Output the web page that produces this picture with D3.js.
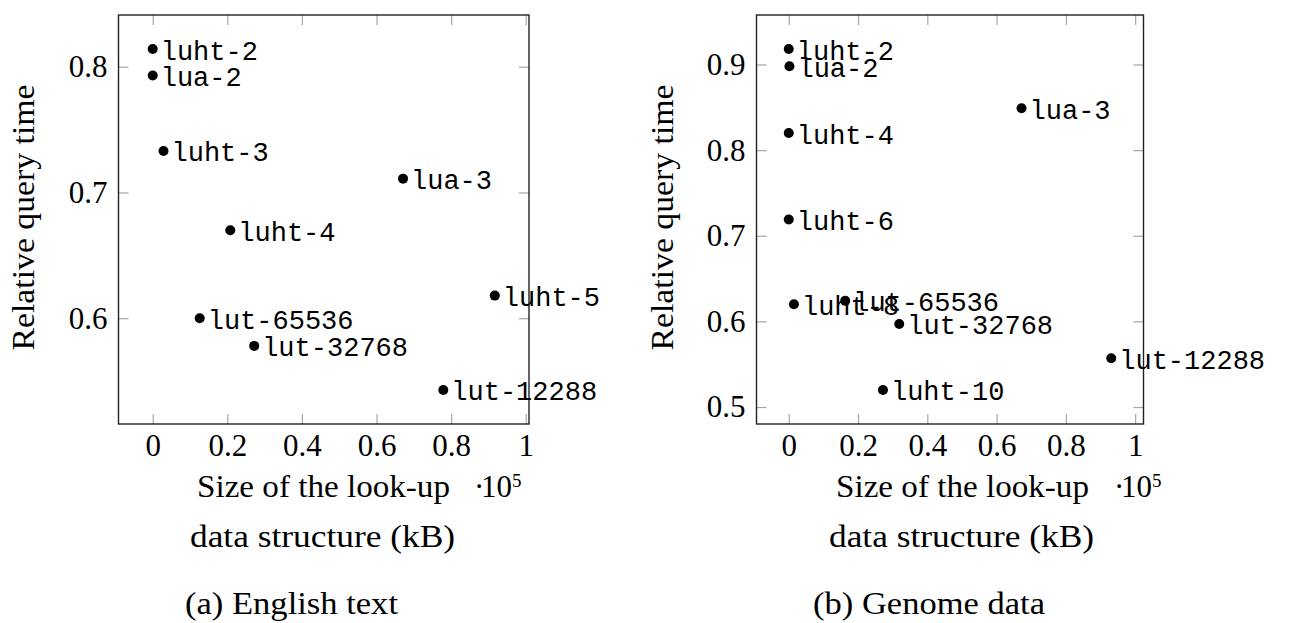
<!DOCTYPE html>
<html>
<head>
<meta charset="utf-8">
<script src="https://cdn.jsdelivr.net/npm/d3@7"></script>
<style>
  html, body { margin: 0; padding: 0; background: #fff; }
  svg { display: block; }
  .serif { font-family: "Liberation Serif", "DejaVu Serif", serif; fill: #000; }
  .mono  { font-family: "Liberation Mono", "DejaVu Sans Mono", monospace; fill: #000; }
</style>
</head>
<body>
<svg id="chart" width="1294" height="623"></svg>
<script>
// (a) English text: look-up structure size (x 10^5 kB) against relative query time
const englishNames = ["luht-2", "lua-2", "luht-3", "lua-3", "luht-4", "lut-65536", "lut-32768", "lut-12288", "luht-5"];
const englishSize  = [0.0, 0.0, 0.029, 0.671, 0.208, 0.126, 0.272, 0.779, 0.917];
const englishTime  = [0.814, 0.793, 0.733, 0.711, 0.670, 0.600, 0.578, 0.543, 0.618];
const englishTimeTicks = [0.6, 0.7, 0.8];
const englishTimeTickLabels = ["0.6", "0.7", "0.8"];

// (b) Genome data
const genomeNames = ["luht-2", "lua-2", "lua-3", "luht-4", "luht-6", "luht-8", "lut-65536", "lut-32768", "lut-12288", "luht-10"];
const genomeSize  = [0.0, 0.002, 0.672, 0.0, 0.0, 0.015, 0.163, 0.319, 0.931, 0.272];
const genomeTime  = [0.918, 0.898, 0.849, 0.820, 0.719, 0.620, 0.624, 0.597, 0.557, 0.520];
const genomeTimeTicks = [0.5, 0.6, 0.7, 0.8, 0.9];
const genomeTimeTickLabels = ["0.5", "0.6", "0.7", "0.8", "0.9"];

// shared x ticks
const sizeTicks = [0, 0.2, 0.4, 0.6, 0.8, 1];
const sizeTickLabels = ["0", "0.2", "0.4", "0.6", "0.8", "1"];

const yTitle = "Relative query time";
const xTitle1 = "Size of the look-up";
const xTitle2 = "data structure (kB)";

const panels = [
  {
    names: englishNames, size: englishSize, time: englishTime,
    yTicks: englishTimeTicks, yTickLabels: englishTimeTickLabels,
    caption: "(a) English text",
    left: 118.5, right: 529, top: 15, bottom: 424,
    yTitleX: 34, xTitleX: 197, xTitle2X: 190, scaleX: 474, captionX: 185, captionLen: 213
  },
  {
    names: genomeNames, size: genomeSize, time: genomeTime,
    yTicks: genomeTimeTicks, yTickLabels: genomeTimeTickLabels,
    caption: "(b) Genome data",
    left: 756.5, right: 1143.5, top: 15, bottom: 424,
    yTitleX: 673, xTitleX: 836, xTitle2X: 829, scaleX: 1114, captionX: 813, captionLen: 232
  }
];

const svg = d3.select("#chart");
svg.append("rect").attr("width", 1294).attr("height", 623).attr("fill", "#fff");

// axis limits widened by 10% of the data range on each side
function padded(values) {
  const [lo, hi] = d3.extent(values);
  const pad = (hi - lo) * 0.1;
  return [lo - pad, hi + pad];
}

const TICK = 10;
const FONT = 31;

function styleAxis(g) {
  g.select(".domain").remove();
  g.attr("font-family", null).attr("font-size", null);
  g.selectAll(".tick line").attr("stroke", "#a6a6a6").attr("stroke-width", 1.2);
  g.selectAll(".tick text").attr("class", "serif").style("font-size", FONT + "px");
}

panels.forEach(p => {
  const x = d3.scaleLinear().domain(padded(p.size)).range([p.left, p.right]);
  const y = d3.scaleLinear().domain(padded(p.time)).range([p.bottom, p.top]);
  const g = svg.append("g");

  // ticks on all four sides, pointing inward
  g.append("g").attr("transform", `translate(0,${p.bottom})`)
    .call(d3.axisBottom(x).tickValues(sizeTicks).tickFormat((d, i) => sizeTickLabels[i]).tickSize(-TICK).tickPadding(10))
    .call(styleAxis);
  g.append("g").attr("transform", `translate(0,${p.top})`)
    .call(d3.axisTop(x).tickValues(sizeTicks).tickFormat(() => "").tickSize(-TICK))
    .call(styleAxis);
  g.append("g").attr("transform", `translate(${p.left},0)`)
    .call(d3.axisLeft(y).tickValues(p.yTicks).tickFormat((d, i) => p.yTickLabels[i]).tickSize(-TICK).tickPadding(11))
    .call(styleAxis);
  g.append("g").attr("transform", `translate(${p.right},0)`)
    .call(d3.axisRight(y).tickValues(p.yTicks).tickFormat(() => "").tickSize(-TICK))
    .call(styleAxis);

  // frame
  g.append("rect")
    .attr("x", p.left).attr("y", p.top)
    .attr("width", p.right - p.left).attr("height", p.bottom - p.top)
    .attr("fill", "none").attr("stroke", "#222").attr("stroke-width", 1.4);

  const pts = p.names.map((n, i) => ({ name: n, s: p.size[i], t: p.time[i] }));

  // markers
  g.selectAll("circle.pt").data(pts).join("circle")
    .attr("class", "pt")
    .attr("cx", d => x(d.s)).attr("cy", d => y(d.t))
    .attr("r", 5).attr("fill", "#000");

  // point labels to the right of each marker
  g.selectAll("text.lbl").data(pts).join("text")
    .attr("class", "lbl mono")
    .attr("x", d => x(d.s) + 8).attr("y", d => y(d.t) + 10.5)
    .style("font-size", "27px")
    .text(d => d.name);

  // y title
  g.append("text").attr("class", "serif")
    .attr("transform", `translate(${p.yTitleX},${(p.top + p.bottom) / 2 - 2}) rotate(-90)`)
    .attr("text-anchor", "middle")
    .attr("textLength", 266).attr("lengthAdjust", "spacingAndGlyphs")
    .style("font-size", FONT + "px")
    .text(yTitle);

  // x title (two lines)
  g.append("text").attr("class", "serif")
    .attr("x", p.xTitleX).attr("y", 497)
    .attr("textLength", 253).attr("lengthAdjust", "spacingAndGlyphs")
    .style("font-size", FONT + "px")
    .text(xTitle1);
  g.append("text").attr("class", "serif")
    .attr("x", p.xTitle2X).attr("y", 547)
    .attr("textLength", 265).attr("lengthAdjust", "spacingAndGlyphs")
    .style("font-size", FONT + "px")
    .text(xTitle2);

  // scale factor for the x axis: ·10^5
  const sc = g.append("text").attr("class", "serif")
    .attr("x", p.scaleX).attr("y", 497)
    .style("font-size", FONT + "px");
  sc.append("tspan").text("·");
  sc.append("tspan").attr("x", p.scaleX + 7).text("10");
  sc.append("tspan").attr("x", p.scaleX + 38).attr("dy", -10).style("font-size", "19px").text("5");

  // sub-caption
  g.append("text").attr("class", "serif")
    .attr("x", p.captionX).attr("y", 614)
    .attr("textLength", p.captionLen).attr("lengthAdjust", "spacingAndGlyphs")
    .style("font-size", FONT + "px")
    .text(p.caption);
});
</script>
</body>
</html>
